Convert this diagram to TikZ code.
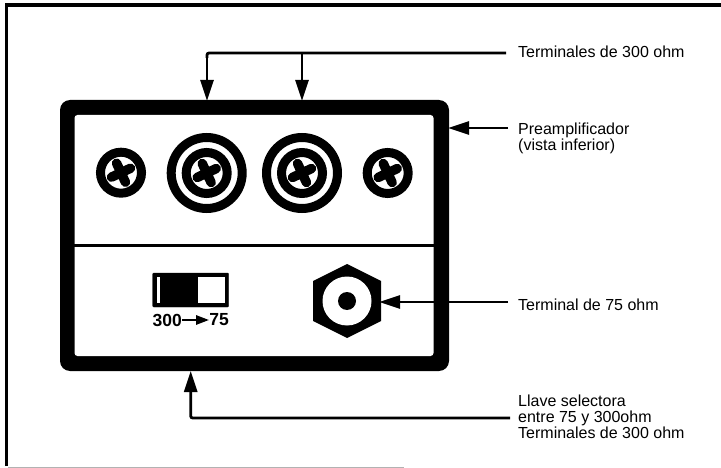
\documentclass[tikz,border=0pt]{standalone}
\usepackage{fontspec}
\setmainfont{Liberation Sans}
\usetikzlibrary{arrows.meta,positioning,shapes.geometric,calc}
\tikzset{
    lead/.style={line width=2.8pt, -{Triangle[length=21pt,width=13pt]}},
    wire/.style={line width=2.8pt},
    label/.style={anchor=west, align=left, font=\fontsize{16}{16.2}\selectfont, inner sep=0pt},
    ring/.style={draw, circle, inner sep=0pt, outer sep=0pt, fill=white},
    screw/.style={ring, line width=9pt, minimum size=41pt},
    jack/.style={ring, line width=9pt, minimum size=71pt}
}
\newcommand{\crosshead}[1]{
    \draw[line width=9.5pt, line cap=round, rotate around={25:(#1)}]
        ($(#1)+(-10.5,0)$) -- ($(#1)+(10.5,0)$) ($(#1)+(0,-10.5)$) -- ($(#1)+(0,10.5)$);
}
\begin{document}
\begin{tikzpicture}[x=1pt,y=-1pt]
    \useasboundingbox (0,0) rectangle (721,468);
    % outer frame
    \draw[line width=3.5pt] (6.5,466) -- (6.5,5) -- (721,5);
    \draw[line width=1pt, gray!60] (8,467) -- (404,467);

    % case of the preamplifier
    \fill[rounded corners=10pt] (60,100) rectangle (449,371);
    \fill[white, rounded corners=3pt] (74.5,115) rectangle (433.5,356);
    \draw[line width=3pt] (74,246) -- (434,246);

    % upper row
    \node (scrl) [screw] at (121,172.7) {};
    \node (jackl) [jack] at (206.7,173) {};
    \node (scrm) [screw] at (206.7,173) {};
    \node (jackr) [jack] at (302,173) {};
    \node (scrn) [screw] at (302,173) {};
    \node (scrr) [screw] at (387.7,173) {};
    \crosshead{scrl}
    \crosshead{scrm}
    \crosshead{scrn}
    \crosshead{scrr}

    % selector
    \node (sw) [draw, fill=black, minimum width=76pt, minimum height=34pt, inner sep=0pt, rounded corners=1pt] at (190.7,290) {};
    \node (swa) [fill=white, minimum width=3.5pt, minimum height=26pt, inner sep=0pt] at (158.5,290) {};
    \node (swb) [fill=white, minimum width=27pt, minimum height=26pt, inner sep=0pt] at (211.5,290) {};
    \node (val) [font=\fontsize{17.5}{18}\selectfont\bfseries, inner sep=0pt, anchor=west] at (152.5,320) {300};
    \node (valb) [font=\fontsize{17.5}{18}\selectfont\bfseries, inner sep=0pt, anchor=east] at (229,320) {75};
    \draw[line width=2.5pt, -{Triangle[length=13pt,width=9pt]}] (val) -- (valb);

    % coaxial terminal
    \fill (313,281) -- (347,264) -- (381,281) -- (381,321) -- (347,338) -- (313,321) -- cycle;
    \node (hexw) [circle, fill=white, minimum size=49pt, inner sep=0pt] at (347,301) {};
    \node (hexd) [circle, fill=black, minimum size=18pt, inner sep=0pt] at (hexw) {};

    % texts
    \node (t1) [label] at (518,52) {Terminales de 300 ohm};
    \node (t2) [label] at (518,138) {Preamplificador\\(vista inferior)};
    \node (t3) [label] at (518,305) {Terminal de 75 ohm};
    \node (t4) [label] at (518,417) {Llave selectora\\entre 75 y 300ohm\\Terminales de 300 ohm};

    % arrows
    \coordinate (a1) at (207,101);
    \coordinate (a2) at (302,101);
    \coordinate (a3) at (448,128);
    \coordinate (a4) at (379,302);
    \coordinate (a5) at (190.7,371);
    \coordinate (e1) at (506,53);
    \coordinate (e2) at (508,128);
    \coordinate (e3) at (508,302);
    \coordinate (e4) at (510,418);
    \draw[wire, rounded corners=2pt] (e1) -- (a1 |- e1) -- ($(a1 |- e1)+(0,5)$);
    \draw[lead] (a1 |- e1) -- (a1);
    \draw[lead] (a2 |- e1) -- (a2);
    \draw[lead] (e2) -- (a3);
    \draw[lead] (e3) -- (a4);
    \draw[lead, rounded corners=2pt] (e4) -- (a5 |- e4) -- (a5);
\end{tikzpicture}
\end{document}
